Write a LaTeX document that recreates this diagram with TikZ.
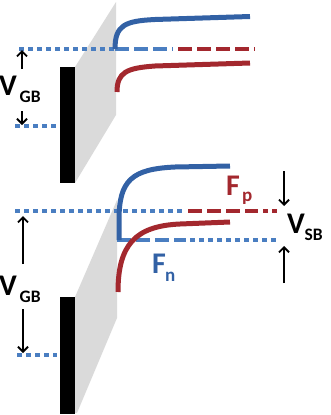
\documentclass[tikz,border=0pt]{standalone}
\usepackage{fontspec}
\setmainfont{Carlito}
\usetikzlibrary{arrows.meta}
\definecolor{dotblue}{RGB}{74,126,193}
\definecolor{curveblue}{RGB}{50,97,165}
\definecolor{bandred}{RGB}{163,40,46}
\definecolor{oxgray}{RGB}{218,218,218}
\tikzset{
  dotline/.style={line width=4pt, dash pattern=on 4.5pt off 4.5pt},
  dashline/.style={line width=4pt, dash pattern=on 14pt off 5pt},
  band/.style={line width=5pt},
  volt/.style={line width=1.9pt, -{Straight Barb[length=5pt,width=10pt,line width=1.9pt]}},
  lbl/.style={anchor=base west, inner sep=0pt, font=\bfseries},
}
\newcommand{\bigsz}{\fontsize{30}{32}\selectfont}
\newcommand{\subsz}{\fontsize{17.5}{19}\selectfont}
\newcommand{\subszb}{\fontsize{19}{21}\selectfont}
\begin{document}
\begin{tikzpicture}[x=1pt,y=-1pt]
\useasboundingbox (0,0) rectangle (330,415);
% ---------- top panel ----------
\fill[oxgray] (75,67) -- (116,2) -- (116,115) -- (75,183) -- cycle;
\fill[black] (60,67) rectangle (75,183);
\draw[dotline, dotblue] (19,49) -- (115,49);
\draw[dashline, dotblue] (115,49) -- (173,49);
\draw[dashline, bandred] (178,49) -- (255,49);
\draw[dotline, dotblue] (15,126) -- (57,126);
\draw[band, curveblue] (115,49) .. controls (115,25) and (125,21) .. (155,19.5) -- (250,16.5);
\draw[band, bandred] (117,92) .. controls (117,72) and (127,68) .. (155,66) -- (250,63);
\coordinate (tua) at (22,69);
\coordinate (tub) at (22,50);
\coordinate (tda) at (22,111);
\coordinate (tdb) at (22,125);
\draw[volt] (tua) -- (tub);
\draw[volt] (tda) -- (tdb);
\node[lbl] (vgbt) at (-1,95) {\bigsz V};
\node[lbl] (vgbts) at (19.5,102) {\subsz GB};
% ---------- bottom panel ----------
\fill[oxgray] (75,297) -- (117,200) -- (117,318) -- (77,413) -- (75,413) -- cycle;
\fill[black] (60,297) rectangle (75,414);
\draw[dotline, dotblue] (15,211) -- (185,211);
\draw[dashline, bandred] (188,211) -- (258,211);
\draw[dotline, bandred] (263,211) -- (279,211);
\draw[dashline, dotblue] (117,240) -- (186,240);
\draw[dotline, dotblue] (190,240) -- (279,240);
\draw[dotline, dotblue] (17,355) -- (57,355);
\draw[band, curveblue] (119,240) -- (119,220) .. controls (119,180) and (132,169) .. (175,167) -- (230,166);
\draw[band, bandred] (118,292) .. controls (118,245) and (135,226) .. (180,224) -- (230,222);
\coordinate (bua) at (23,264);
\coordinate (bub) at (23,216);
\coordinate (bda) at (23,309);
\coordinate (bdb) at (23,353);
\draw[volt] (bua) -- (bub);
\draw[volt] (bda) -- (bdb);
\coordinate (rda) at (284,171);
\coordinate (rdb) at (284,206);
\coordinate (rua) at (284,283);
\coordinate (rub) at (284,246);
\draw[volt] (rda) -- (rdb);
\draw[volt] (rua) -- (rub);
\node[lbl] (vgbb) at (-1,295) {\bigsz V};
\node[lbl] (vgbbs) at (19.5,302) {\subsz GB};
\node[lbl, text=bandred] (fp) at (226,195) {\bigsz F};
\node[lbl, text=bandred] (fps) at (242,201) {\subszb p};
\node[lbl, text=curveblue] (fn) at (152,273) {\bigsz F};
\node[lbl, text=curveblue] (fns) at (165,281) {\subszb n};
\node[lbl] (vsb) at (287,233) {\bigsz V};
\node[lbl] (vsbs) at (304.5,240) {\subsz SB};
\end{tikzpicture}
\end{document}
